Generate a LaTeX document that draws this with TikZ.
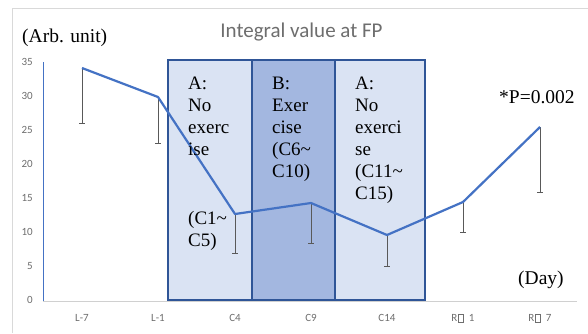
\documentclass[tikz,border=0pt]{standalone}
\usepackage{fontspec}
\setmainfont{Liberation Serif}
\newfontfamily\chartfont{Carlito}
\definecolor{lineblue}{HTML}{4472C4}
\definecolor{boxblue}{HTML}{2F5597}
\definecolor{lightfill}{HTML}{DAE3F3}
\definecolor{darkfill}{HTML}{A3B7E0}
\definecolor{bargray}{HTML}{595959}
\definecolor{labgray}{HTML}{6E6E6E}
\definecolor{framegray}{HTML}{D9D9D9}
\definecolor{axisgray}{HTML}{D0D0D0}
\newcommand{\missingglyph}{{\fboxsep=0pt\fboxrule=0.5pt\fbox{\rule{0pt}{7.5pt}\hspace{4.5pt}}}}
\begin{document}
\begin{tikzpicture}[x=1pt,y=-1pt,
  serieline/.style={draw=lineblue, line width=2.2pt, line join=round},
  errbar/.style={draw=bargray, line width=0.9pt},
  period/.style={draw=boxblue, line width=2.2pt},
  % multi-line nodes are placed by the baseline of their last line
  boxtext/.style={font=\fontsize{19}{22}\selectfont, align=left, anchor=base west, inner sep=0pt},
  ticklab/.style={font=\chartfont\fontsize{11}{13}\selectfont, text=labgray, inner sep=0pt},
  serif19/.style={font=\fontsize{19.5}{22}\selectfont, inner sep=0pt}]
\useasboundingbox (0,0) rectangle (588,333);
\fill[white] (0,0) rectangle (588,333);
% chart frame
\draw[framegray, line width=1pt] (12,333) -- (12,8) -- (588,8);
% exercise periods
\fill[lightfill] (168,60) rectangle (252,300);
\fill[darkfill] (252,60) rectangle (335,300);
\fill[lightfill] (335,60) rectangle (425,300);
\draw[period] (168,60) rectangle (425,300);
\draw[period] (252,60) -- (252,300);
\draw[period] (335,60) -- (335,300);
% axes
\draw[lineblue, line width=0.8pt] (43,62) -- (43,301.5);
\draw[axisgray, line width=1pt] (43,301.5) -- (577,301.5);
% tick labels
\foreach \v/\yy in {0/300,5/266,10/232,15/198,20/164,25/130,30/96,35/62}
  \node[ticklab, anchor=east] (t\v) at (33,\yy) {\v};
% data points and error bars
\foreach \n/\xx/\yy/\ee in {1/82/68/123,2/158/97/143,3/235/214/253,4/311/203/243,5/387/235/266,6/463/202/232,7/540/127/192}{
  \coordinate (p\n) at (\xx,\yy);
  \coordinate (e\n) at (\xx,\ee);
  \draw[errbar] (p\n) -- (e\n);
  \draw[errbar] ([xshift=-3pt]e\n) -- ([xshift=3pt]e\n);
}
\draw[serieline] (p1) -- (p2) -- (p3) -- (p4) -- (p5) -- (p6) -- (p7);
% category labels
\node[ticklab] (c1) at (82,318) {L-7};
\node[ticklab] (c2) at (158,318) {L-1};
\node[ticklab] (c3) at (235,318) {C4};
\node[ticklab] (c4) at (311,318) {C9};
\node[ticklab] (c5) at (387,318) {C14};
\node[ticklab] (c6) at (463,318) {R\hspace{1pt}\missingglyph\hspace{5pt}1};
\node[ticklab] (c7) at (540,318) {R\hspace{1pt}\missingglyph\hspace{5pt}7};
% period labels
\node[boxtext] (pa) at (188,155) {A:\\No\\exerc\\ise};
\node[boxtext] (pad) at (188,246) {(C1\textasciitilde\\C5)};
\node[boxtext] (pb) at (272,177) {B:\\Exer\\cise\\(C6\textasciitilde\\C10)};
\node[boxtext] (pc) at (355,199) {A:\\No\\exerci\\se\\(C11\textasciitilde\\C15)};
% titles and notes
\node[font=\chartfont\fontsize{21}{24}\selectfont, text=labgray, anchor=base, inner sep=0pt] (title) at (301.5,37) {Integral value at FP};
\node[serif19, anchor=base west] (unit) at (22,42) {(Arb. unit)};
\node[serif19, anchor=base west] (pval) at (499,103) {*P=0.002};
\node[serif19, anchor=base west] (day) at (518,284) {(Day)};
\end{tikzpicture}
\end{document}
